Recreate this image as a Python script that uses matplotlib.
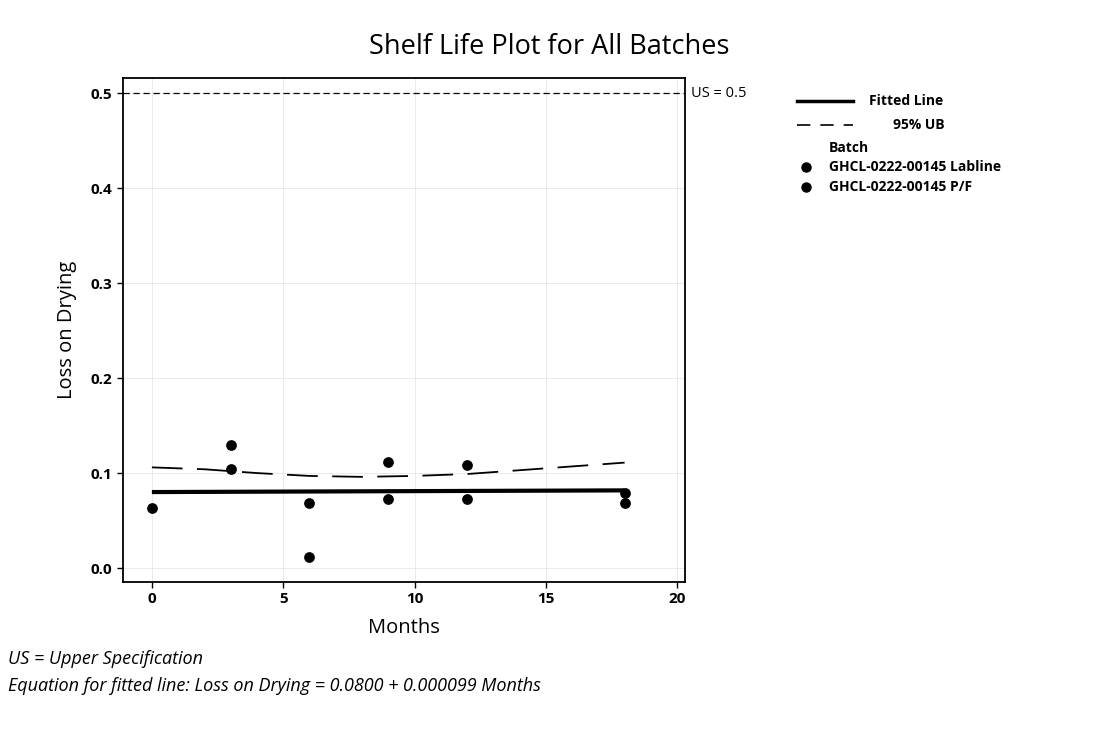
import matplotlib
matplotlib.use("Agg")
import matplotlib.pyplot as plt
from matplotlib.lines import Line2D
import numpy as np

plt.rcParams["font.family"] = ["Open Sans", "DejaVu Sans"]

# data
months_lab = [0, 3, 6, 9, 12, 18]
lod_lab = [0.063, 0.130, 0.069, 0.112, 0.108, 0.079]
months_pf = [3, 6, 9, 12, 18]
lod_pf = [0.104, 0.012, 0.073, 0.073, 0.069]

fit_intercept = 0.0800
fit_slope = 0.000099
fit_months = [0, 18]

ub_months = [0, 2, 4, 6, 8, 10, 12, 14, 16, 18]
ub_values = [0.106, 0.104, 0.100, 0.097, 0.096, 0.097, 0.099, 0.103, 0.107, 0.111]

us_value = 0.5

W, H = 1099, 744
fig = plt.figure(figsize=(W / 100, H / 100), dpi=100)
ax = fig.add_axes([123 / W, 1 - 582 / H, (685 - 123) / W, (582 - 78) / H])

# spec limit
ax.axhline(us_value, color="black", lw=0.9, ls=(0, (5, 3)))

# fitted line
fx = np.array(fit_months, dtype=float)
ax.plot(fx, fit_intercept + fit_slope * fx, color="black", lw=3.0, solid_capstyle="butt")

# 95% upper bound
ax.plot(ub_months, ub_values, color="black", lw=1.3, ls=(0, (17, 8)))

# batches
ax.scatter(months_lab, lod_lab, s=45, color="black", zorder=3)
ax.scatter(months_pf, lod_pf, s=45, color="black", zorder=3)

ax.set_xlim(-1.1, 20.3)
ax.set_ylim(-0.0147, 0.516)
ax.set_xticks([0, 5, 10, 15, 20])
ax.set_yticks([0.0, 0.1, 0.2, 0.3, 0.4, 0.5])
ax.set_yticklabels(["0.0", "0.1", "0.2", "0.3", "0.4", "0.5"])
ax.tick_params(labelsize=11, length=4, width=1, direction="out")
for lab in ax.get_xticklabels() + ax.get_yticklabels():
    lab.set_fontweight("bold")
ax.grid(True, color="#e6e6e6", lw=0.6)
ax.set_axisbelow(True)
for sp in ax.spines.values():
    sp.set_linewidth(1.3)

ax.set_xlabel("Months", fontsize=14.5, labelpad=8)
ax.set_ylabel("Loss on Drying", fontsize=14.5, labelpad=10)
fig.text(0.5, 1 - 47 / H, "Shelf Life Plot for All Batches", fontsize=19.5,
         ha="center", va="center")

ax.text(1.01, us_value, "US = 0.5", transform=ax.get_yaxis_transform(),
        va="center", ha="left", fontsize=10.5)

# legend drawn by hand to keep the Minitab layout
def fx_(px):
    return px / W

def fy_(py):
    return 1 - py / H

fig.add_artist(Line2D([fx_(797), fx_(853)], [fy_(101), fy_(101)], color="black", lw=2.5))
fig.text(fx_(869), fy_(101), "Fitted Line", fontsize=10, fontweight="bold", va="center")
fig.add_artist(Line2D([fx_(797), fx_(853)], [fy_(125), fy_(125)], color="black", lw=1.2,
                      ls=(0, (8, 6))))
fig.text(fx_(893), fy_(125), "95% UB", fontsize=10, fontweight="bold", va="center")
fig.text(fx_(829), fy_(148), "Batch", fontsize=10, fontweight="bold", va="center")
for py, name in [(167, "GHCL-0222-00145 Labline"), (187, "GHCL-0222-00145 P/F")]:
    fig.add_artist(Line2D([fx_(806)], [fy_(py)], marker="o", color="black", markersize=6.5))
    fig.text(fx_(829), fy_(py), name, fontsize=10, fontweight="bold", va="center")

fig.text(fx_(8), fy_(659), "US = Upper Specification", fontsize=13, style="italic", va="center")
fig.text(fx_(8), fy_(686), "Equation for fitted line: Loss on Drying = 0.0800 + 0.000099 Months",
         fontsize=13, style="italic", va="center")

fig.savefig("out.png", dpi=100)
